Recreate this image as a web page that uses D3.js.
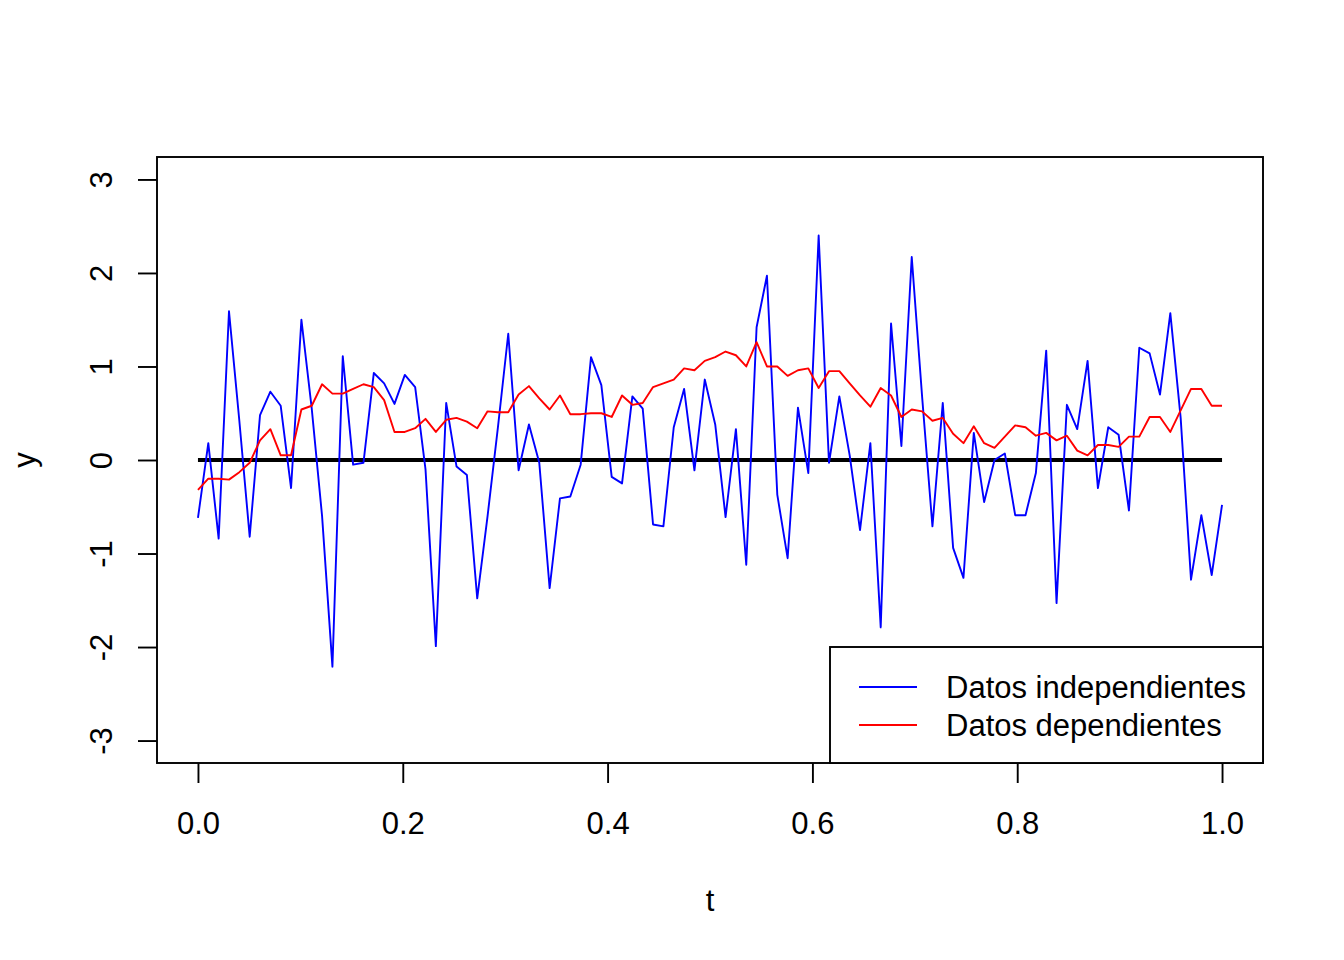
<!DOCTYPE html>
<html><head><meta charset="utf-8">
<script src="https://cdn.jsdelivr.net/npm/d3@7"></script>
<style>
body{margin:0;background:#fff}
svg{display:block}
text{font-family:"Liberation Sans",Arial,sans-serif;fill:#000}
</style>
</head><body><div id="chart"></div>
<script>
const tValues = [0,0.0101,0.0202,0.0303,0.0404,0.0505,0.0606,0.0707,0.0808,0.0909,
0.1010,0.1111,0.1212,0.1313,0.1414,0.1515,0.1616,0.1717,0.1818,0.1919,
0.2020,0.2121,0.2222,0.2323,0.2424,0.2525,0.2626,0.2727,0.2828,0.2929,
0.3030,0.3131,0.3232,0.3333,0.3434,0.3535,0.3636,0.3737,0.3838,0.3939,
0.4040,0.4141,0.4242,0.4343,0.4444,0.4545,0.4646,0.4747,0.4848,0.4949,
0.5051,0.5152,0.5253,0.5354,0.5455,0.5556,0.5657,0.5758,0.5859,0.5960,
0.6061,0.6162,0.6263,0.6364,0.6465,0.6566,0.6667,0.6768,0.6869,0.6970,
0.7071,0.7172,0.7273,0.7374,0.7475,0.7576,0.7677,0.7778,0.7879,0.7980,
0.8081,0.8182,0.8283,0.8384,0.8485,0.8586,0.8687,0.8788,0.8889,0.8990,
0.9091,0.9192,0.9293,0.9394,0.9495,0.9596,0.9697,0.9798,0.9899,1.0000];

const independientes = [-0.62,0.18,-0.84,1.59,0.42,-0.82,0.48,0.73,0.58,-0.30,
1.50,0.55,-0.60,-2.21,1.11,-0.05,-0.03,0.93,0.82,0.60,
0.91,0.78,-0.10,-1.99,0.61,-0.07,-0.16,-1.48,-0.60,0.35,
1.35,-0.11,0.38,-0.03,-1.37,-0.41,-0.39,-0.05,1.10,0.80,
-0.18,-0.25,0.68,0.55,-0.69,-0.71,0.35,0.76,-0.11,0.86,
0.38,-0.61,0.33,-1.12,1.42,1.97,-0.37,-1.05,0.56,-0.14,
2.40,-0.03,0.68,0.05,-0.75,0.18,-1.79,1.46,0.15,2.17,
0.68,-0.71,0.61,-0.94,-1.26,0.29,-0.45,0.00,0.07,-0.59,
-0.59,-0.14,1.17,-1.53,0.59,0.33,1.06,-0.30,0.35,0.27,
-0.54,1.20,1.14,0.70,1.57,0.45,-1.28,-0.59,-1.23,-0.48];

const dependientes = [-0.32,-0.20,-0.20,-0.21,-0.13,-0.03,0.21,0.33,0.05,0.05,
0.54,0.58,0.81,0.71,0.71,0.76,0.81,0.78,0.64,0.30,
0.30,0.34,0.44,0.30,0.43,0.45,0.41,0.34,0.52,0.51,
0.51,0.70,0.79,0.66,0.54,0.69,0.49,0.49,0.50,0.50,
0.46,0.69,0.59,0.61,0.78,0.82,0.86,0.98,0.96,1.06,
1.10,1.16,1.12,1.00,1.26,1.00,1.00,0.90,0.96,0.98,
0.77,0.95,0.95,0.82,0.69,0.57,0.77,0.69,0.46,0.54,
0.52,0.42,0.45,0.28,0.18,0.36,0.18,0.13,0.25,0.37,
0.35,0.26,0.29,0.21,0.26,0.10,0.05,0.16,0.16,0.14,
0.25,0.25,0.46,0.46,0.30,0.53,0.76,0.76,0.58,0.58];

const referenceLevel = [0, 0];
const referenceRange = [0, 1];
const xTicks = [0, 0.2, 0.4, 0.6, 0.8, 1.0];
const xTickLabels = ["0.0", "0.2", "0.4", "0.6", "0.8", "1.0"];
const yTicks = [-3, -2, -1, 0, 1, 2, 3];
const yTickLabels = ["-3", "-2", "-1", "0", "1", "2", "3"];
const legendLabels = ["Datos independientes", "Datos dependientes"];
const seriesColors = ["#0000FF", "#FF0000"];
const xLabel = "t";
const yLabel = "y";

const W = 1344, H = 960;
const plot = {left: 157, right: 1263, top: 157, bottom: 763};
const fs = 31;
const lw = 1.9;

const x = d3.scaleLinear().domain([-0.04, 1.04]).range([plot.left, plot.right]);
const y = d3.scaleLinear().domain([-3.24, 3.24]).range([plot.bottom, plot.top]);

const svg = d3.select("#chart").append("svg").attr("width", W).attr("height", H);
svg.append("rect").attr("width", W).attr("height", H).attr("fill", "#fff");

const line = d3.line().x(d => x(d[0])).y(d => y(d[1]));

// reference line at zero
svg.append("path")
  .datum(referenceRange.map((t, i) => [t, referenceLevel[i]]))
  .attr("d", line).attr("fill", "none").attr("stroke", "#000").attr("stroke-width", 3.8);

// series
[independientes, dependientes].forEach((vals, k) => {
  svg.append("path")
    .datum(tValues.map((t, i) => [t, vals[i]]))
    .attr("d", line).attr("fill", "none")
    .attr("stroke", seriesColors[k]).attr("stroke-width", lw)
    .attr("stroke-linejoin", "round");
});

// x axis
const xAxis = d3.axisBottom(x).tickValues(xTicks).tickSize(20).tickPadding(29)
  .tickFormat((d, i) => xTickLabels[i]);
const gx = svg.append("g").attr("transform", `translate(0,${plot.bottom})`).call(xAxis);
gx.select(".domain").remove();
gx.selectAll(".tick line").attr("stroke", "#000").attr("stroke-width", lw);
gx.selectAll(".tick text").attr("font-size", fs).attr("font-family", "Liberation Sans, Arial, sans-serif").attr("fill", "#000");

// y axis
const yAxis = d3.axisLeft(y).tickValues(yTicks).tickSize(19).tickFormat((d, i) => yTickLabels[i]);
const gy = svg.append("g").attr("transform", `translate(${plot.left},0)`).call(yAxis);
gy.select(".domain").remove();
gy.selectAll(".tick line").attr("stroke", "#000").attr("stroke-width", lw);
gy.selectAll(".tick text")
  .attr("font-size", fs).attr("font-family", "Liberation Sans, Arial, sans-serif").attr("fill", "#000")
  .attr("x", null).attr("dy", null)
  .attr("text-anchor", "middle")
  .attr("transform", `translate(${112 - plot.left},0) rotate(-90)`);

// box
svg.append("rect")
  .attr("x", plot.left).attr("y", plot.top)
  .attr("width", plot.right - plot.left).attr("height", plot.bottom - plot.top)
  .attr("fill", "none").attr("stroke", "#000").attr("stroke-width", lw);

// axis titles
svg.append("text").attr("x", (plot.left + plot.right) / 2).attr("y", 911)
  .attr("text-anchor", "middle").attr("font-size", fs).text(xLabel);
svg.append("text").attr("transform", `translate(35,${(plot.top + plot.bottom) / 2}) rotate(-90)`)
  .attr("text-anchor", "middle").attr("font-size", fs).text(yLabel);

// legend
const lg = svg.append("g");
lg.append("rect").attr("x", 830).attr("y", 647).attr("width", plot.right - 830).attr("height", plot.bottom - 647)
  .attr("fill", "#fff").attr("stroke", "#000").attr("stroke-width", lw);
const legendY = [687, 725];
legendLabels.forEach((lab, k) => {
  lg.append("line").attr("x1", 859).attr("x2", 917).attr("y1", legendY[k]).attr("y2", legendY[k])
    .attr("stroke", seriesColors[k]).attr("stroke-width", lw);
  lg.append("text").attr("x", 946).attr("y", legendY[k] + 11).attr("font-size", fs).text(lab);
});
</script>
</body></html>
